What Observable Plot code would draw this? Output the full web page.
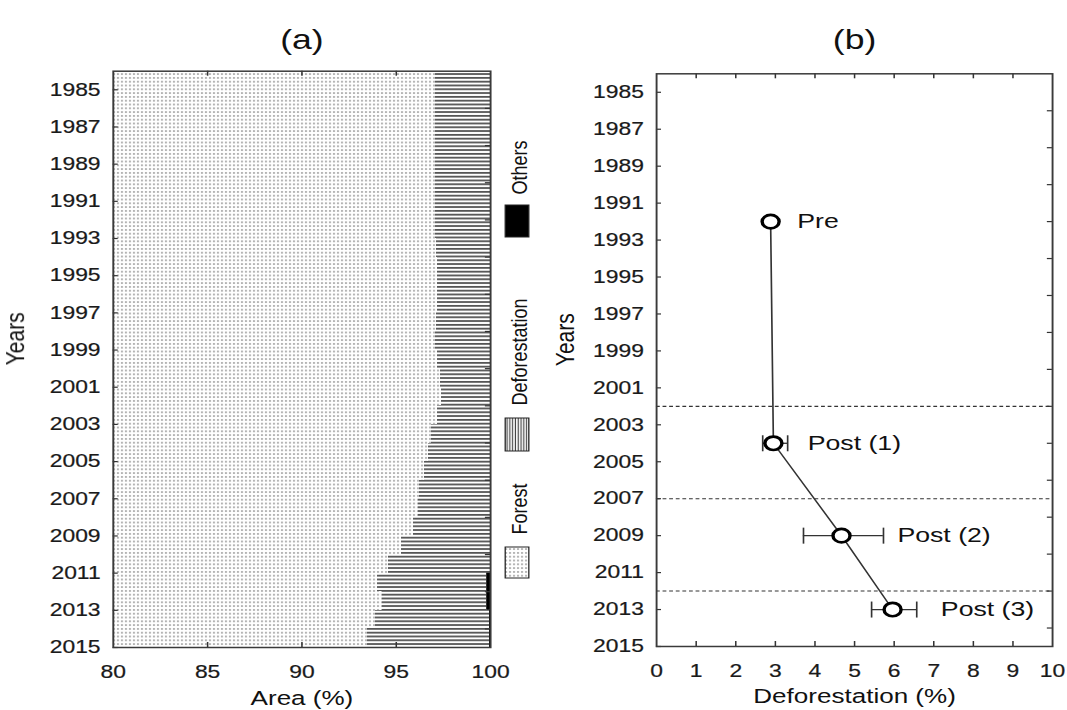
<!DOCTYPE html>
<html><head><meta charset="utf-8">
<script src="https://cdn.jsdelivr.net/npm/d3@7"></script>
<script src="https://cdn.jsdelivr.net/npm/@observablehq/plot@0.6"></script>
<style>
html,body{margin:0;padding:0;background:#fff;overflow:hidden;}
#wrap{display:flex;width:840.2px;transform:scaleX(1.27);transform-origin:0 0;}
#wrap svg{display:block;flex:none;}
#wrap g[aria-label$="tick label"] text{stroke:#1a1a1a;stroke-width:0.22px;}
</style></head><body><div id="wrap"></div>
<script>
// ---------- data: panel (a) ----------
const years = [1985,1986,1987,1988,1989,1990,1991,1992,1993,1994,1995,1996,1997,1998,1999,2000,
               2001,2002,2003,2004,2005,2006,2007,2008,2009,2010,2011,2012,2013,2014,2015];
const forestPct = [97.1,97.1,97.1,97.1,97.1,97.1,97.1,97.1,97.1,97.15,97.2,97.2,97.2,97.15,97.1,97.2,
                   97.35,97.4,97.2,96.9,96.7,96.5,96.25,96.2,95.9,95.3,94.6,94.0,94.3,93.9,93.5];
const othersPct = [0,0,0,0,0,0,0,0,0,0,0,0,0,0,0,0,
                   0,0,0,0,0,0,0,0,0,0,0,0.2,0.2,0.05,0.05];
const legendItems = ["Forest","Deforestation","Others"];
const yTickYears = [1985,1987,1989,1991,1993,1995,1997,1999,2001,2003,2005,2007,2009,2011,2013,2015];
const yMinorYears = [1986,1988,1990,1992,1994,1996,1998,2000,2002,2004,2006,2008,2010,2012,2014];
const areaTicks = [80,85,90,95,100];
const areaInnerTicks = [85,90,95];

// ---------- data: panel (b) ----------
const periods = ["Pre","Post (1)","Post (2)","Post (3)"];
const periodYears = [1992,2004,2009,2013];
const defRate = [2.88,2.95,4.67,5.96];
const defLow = [null,2.68,3.71,5.43];
const defHigh = [null,3.31,5.73,6.57];
const breakYears = [2002,2007,2012];
const defTicks = [0,1,2,3,4,5,6,7,8,9,10];
const defInnerTicks = [1,2,3,4,5,6,7,8,9];

// ---------- build ----------
const font = "'Liberation Sans', Arial, Helvetica, sans-serif";
const ink = "#1a1a1a";
const tickStroke = "#333";
const rows = years.map((y,i)=>({year:y, forest:forestPct[i], others:othersPct[i]}));
const pts = periods.map((p,i)=>({label:p, year:periodYears[i], rate:defRate[i], lo:defLow[i], hi:defHigh[i]}));
const errPts = pts.filter(d=>d.lo!=null);
const vbar = {draw(ctx, size){ const l = Math.sqrt(size/Math.PI); ctx.moveTo(0,-l); ctx.lineTo(0,l); }};

const A = {width:425, height:710, mt:70.7, mb:63, ml:88.7, mr:39.2};
const fwA = A.width-A.ml-A.mr, fhA = A.height-A.mt-A.mb;
const plotA = Plot.plot({
  width:A.width, height:A.height, marginTop:A.mt, marginBottom:A.mb, marginLeft:A.ml, marginRight:A.mr,
  style:{fontFamily:font, fontSize:"18px", background:"white", overflow:"visible", color:ink},
  x:{domain:[80,100], label:null},
  y:{domain:[1984,2015], reverse:true, label:null},
  marks:[
    Plot.rectX(rows,{y1:d=>d.year-1, y2:"year", x1:80, x2:"forest", fill:"url(#dotsPat)", shapeRendering:"crispEdges"}),
    Plot.rectX(rows,{y1:d=>d.year-1, y2:"year", x1:"forest", x2:d=>100-d.others, fill:"url(#hlinePat)", shapeRendering:"crispEdges"}),
    Plot.rectX(rows.filter(d=>d.others>0),{y1:d=>d.year-1, y2:"year", x1:d=>100-d.others, x2:100, fill:"black"}),
    Plot.tickY(yTickYears,{y:d=>d, insetRight:fwA-4, stroke:tickStroke, strokeWidth:1.2}),
    Plot.tickY(yMinorYears,{y:d=>d, insetLeft:fwA-4, stroke:tickStroke, strokeWidth:1.2}),
    Plot.tickX(areaInnerTicks,{x:d=>d, insetTop:fhA-5, stroke:tickStroke, strokeWidth:1.2}),
    Plot.tickX(areaInnerTicks,{x:d=>d, insetBottom:fhA-5, stroke:tickStroke, strokeWidth:1.2}),
    Plot.frame({stroke:"#3a3a3a", strokeWidth:1.5}),
    Plot.axisY({ticks:yTickYears, tickSize:0, tickPadding:10, tickFormat:d=>String(d), label:null, fill:ink}),
    Plot.axisX({ticks:areaTicks, tickSize:0, tickPadding:18, tickFormat:d=>String(d), label:null, fill:ink}),
    Plot.text(["(a)"],{text:d=>d, frameAnchor:"top", dy:-42, fontSize:28, fill:"#111"}),
    Plot.text(["Area (%)"],{text:d=>d, frameAnchor:"bottom", dy:57, fontSize:20.5, fill:"#111"}),
    Plot.text(["Years"],{text:d=>d, frameAnchor:"left", dx:-76.7, dy:6, rotate:-90, fontSize:21, fill:"#111"})
  ]
});

const B = {width:415.2, height:710, mt:73.3, mb:64, ml:91.5, mr:11.9};
const fwB = B.width-B.ml-B.mr, fhB = B.height-B.mt-B.mb;
const labelDx = [21,27,44,38];
const plotB = Plot.plot({
  width:B.width, height:B.height, marginTop:B.mt, marginBottom:B.mb, marginLeft:B.ml, marginRight:B.mr,
  style:{fontFamily:font, fontSize:"18px", background:"white", overflow:"visible", color:ink},
  x:{domain:[0,10], label:null},
  y:{domain:[1984,2015], reverse:true, label:null},
  marks:[
    Plot.ruleY(breakYears,{y:d=>d, stroke:"#333", strokeWidth:1.1, strokeDasharray:"3,2.2"}),
    Plot.line(pts,{x:"rate", y:"year", stroke:"#333", strokeWidth:1.3}),
    Plot.ruleY(errPts,{y:"year", x1:"lo", x2:"hi", stroke:"#333", strokeWidth:1.3}),
    Plot.dot(errPts,{x:"lo", y:"year", symbol:vbar, r:8, fill:"none", stroke:"#333", strokeWidth:1.3}),
    Plot.dot(errPts,{x:"hi", y:"year", symbol:vbar, r:8, fill:"none", stroke:"#333", strokeWidth:1.3}),
    Plot.dot(pts,{x:"rate", y:"year", r:6.7, fill:"white", stroke:"black", strokeWidth:2.7}),
    ...pts.map((p,i)=>Plot.text([p],{x:"rate", y:"year", text:"label", textAnchor:"start", dx:labelDx[i], fontSize:21, fill:"#111"})),
    Plot.tickY(yTickYears,{y:d=>d, insetRight:fwB-4, stroke:tickStroke, strokeWidth:1.2}),
    Plot.tickY(yMinorYears,{y:d=>d, insetLeft:fwB-4, stroke:tickStroke, strokeWidth:1.2}),
    Plot.tickX(defInnerTicks,{x:d=>d, insetTop:fhB-5, stroke:tickStroke, strokeWidth:1.2}),
    Plot.tickX(defInnerTicks,{x:d=>d, insetBottom:fhB-5, stroke:tickStroke, strokeWidth:1.2}),
    Plot.frame({stroke:"#3a3a3a", strokeWidth:1.5}),
    Plot.axisY({ticks:yTickYears, tickSize:0, tickPadding:10, tickFormat:d=>String(d), label:null, fill:ink}),
    Plot.axisX({ticks:defTicks, tickSize:0, tickPadding:18, tickFormat:d=>String(d), label:null, fill:ink}),
    Plot.text(["(b)"],{text:d=>d, frameAnchor:"top", dy:-45, fontSize:28, fill:"#111"}),
    Plot.text(["Deforestation (%)"],{text:d=>d, frameAnchor:"bottom", dy:57, fontSize:20.5, fill:"#111"}),
    Plot.text(["Years"],{text:d=>d, frameAnchor:"left", dx:-71.6, dy:6, rotate:-90, fontSize:21, fill:"#111"})
  ]
});

// patterns + legend for panel (a)
const sa = d3.select(plotA);
const defs = sa.insert("defs",":first-child");
const pd = defs.append("pattern").attr("id","dotsPat").attr("patternUnits","userSpaceOnUse").attr("width",3.15).attr("height",3.8);
pd.append("rect").attr("width",3.15).attr("height",3.8).attr("fill","white");
pd.append("rect").attr("x",0.9).attr("y",1.2).attr("width",1.25).attr("height",1.4).attr("fill","#707070");
const ph = defs.append("pattern").attr("id","hlinePat").attr("patternUnits","userSpaceOnUse").attr("width",4).attr("height",3.8);
ph.append("rect").attr("width",4).attr("height",3.8).attr("fill","white");
ph.append("rect").attr("y",1).attr("width",4).attr("height",1.7).attr("fill","#4a4a4a");
const pv = defs.append("pattern").attr("id","vlinePat").attr("patternUnits","userSpaceOnUse").attr("width",2.2).attr("height",4);
pv.append("rect").attr("width",2.2).attr("height",4).attr("fill","white");
pv.append("rect").attr("x",0.6).attr("width",0.9).attr("height",4).attr("fill","#444");

const legendFill = {"Forest":"url(#dotsPat)","Deforestation":"url(#vlinePat)","Others":"black"};
const legendBox = {"Forest":[547,578],"Deforestation":[418,451],"Others":[205,237]};
const legendTextY = {"Forest":509,"Deforestation":352,"Others":167.5};
const lg = sa.append("g").attr("font-family",font).attr("font-size",18);
legendItems.forEach(k=>{
  const [y0,y1] = legendBox[k];
  lg.append("rect").attr("x",397.8).attr("y",y0).attr("width",18.6).attr("height",y1-y0)
    .attr("fill",legendFill[k]).attr("stroke","#222").attr("stroke-width",1);
  lg.append("text").attr("transform",`translate(408.5,${legendTextY[k]}) rotate(-90)`)
    .attr("text-anchor","middle").attr("dy","0.35em").attr("fill","#111").text(k);
});

document.getElementById("wrap").append(plotA, plotB);
</script></body></html>
